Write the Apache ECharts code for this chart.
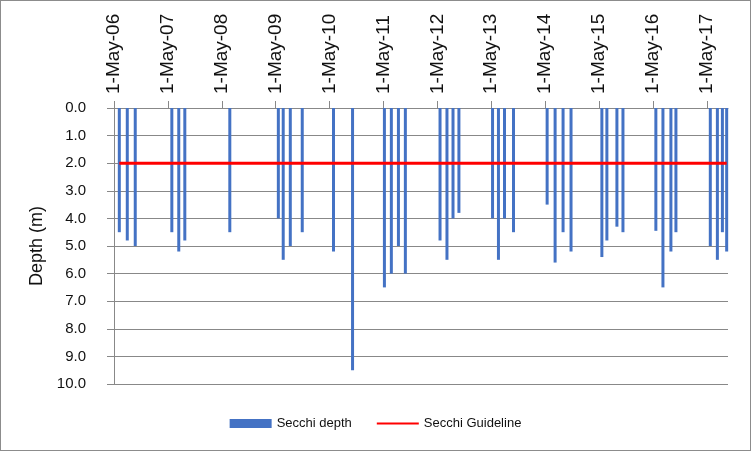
<!DOCTYPE html>
<html>
<head>
<meta charset="utf-8">
<script src="https://cdn.jsdelivr.net/npm/echarts@6/dist/echarts.min.js"></script>
<style>
html,body{margin:0;padding:0;background:#fff;}
#c{position:absolute;left:0;top:0;width:749px;height:449px;border:1px solid #8c8c8c;}
</style>
</head>
<body>
<div id="c"></div>
<script>
// Sampling dates
const sampleDates = [
  '2006-06-06','2006-07-30','2006-09-22',
  '2007-05-28','2007-07-14','2007-08-24',
  '2008-06-24',
  '2009-05-19','2009-06-21','2009-08-08','2009-10-28',
  '2010-05-28','2010-10-04',
  '2011-05-08','2011-06-24','2011-08-11','2011-09-27',
  '2012-05-19','2012-07-05','2012-08-15','2012-09-24',
  '2013-05-10','2013-06-19','2013-07-30','2013-09-29',
  '2014-05-15','2014-07-08','2014-08-31','2014-10-24',
  '2015-05-21','2015-06-24','2015-08-31','2015-10-11',
  '2016-05-21','2016-07-08','2016-08-31','2016-10-04',
  '2017-05-25','2017-07-12','2017-08-15','2017-09-13'
];
// Secchi depth (m)
const secchiDepth = [
  4.5, 4.8, 5.0,
  4.5, 5.2, 4.8,
  4.5,
  4.0, 5.5, 5.0, 4.5,
  5.2, 9.5,
  6.5, 6.0, 5.0, 6.0,
  4.8, 5.5, 4.0, 3.8,
  4.0, 5.5, 4.0, 4.5,
  3.5, 5.6, 4.5, 5.2,
  5.4, 4.8, 4.3, 4.5,
  4.45, 6.5, 5.2, 4.5,
  5.0, 5.5, 4.5, 5.2
];
const guidelineValue = 2.0;
const tickDates = ['2006-05-01','2007-05-01','2008-05-01','2009-05-01','2010-05-01','2011-05-01',
                   '2012-05-01','2013-05-01','2014-05-01','2015-05-01','2016-05-01','2017-05-01'];
const axisMinDate = '2006-05-01';
const axisMaxDate = '2017-09-22';

function ts(s){ const p = s.split('-').map(Number); return new Date(p[0], p[1]-1, p[2]).getTime(); }
const MONTHS = ['Jan','Feb','Mar','Apr','May','Jun','Jul','Aug','Sep','Oct','Nov','Dec'];
function fmt(v){ const d = new Date(v); return d.getDate() + '-' + MONTHS[d.getMonth()] + '-' + String(d.getFullYear()).slice(-2); }

const barData = sampleDates.map((d,i)=>[ts(d), secchiDepth[i]]);
const lineData = [[ts(sampleDates[0]), guidelineValue],[ts(sampleDates[sampleDates.length-1]), guidelineValue]];
const tickVals = tickDates.map(ts);

const chart = echarts.init(document.getElementById('c'), null, {renderer:'canvas'});
chart.setOption({
  animation:false,
  textStyle:{fontFamily:'Liberation Sans, Arial, sans-serif'},
  grid:{left:113, right:22, top:107, bottom:66, containLabel:false},
  legend:{
    bottom:15, left:'center',
    itemGap:24, itemWidth:42, itemHeight:9,
    textStyle:{fontSize:13, color:'#111'},
    data:[
      {name:'Secchi depth', icon:'rect'},
      {name:'Secchi Guideline', itemStyle:{color:'rgba(0,0,0,0)', borderWidth:0, opacity:0}}
    ]
  },
  xAxis:{
    type:'value', position:'top', scale:true,
    min:ts(axisMinDate), max:ts(axisMaxDate),
    axisLine:{show:true, lineStyle:{color:'#888', width:1}},
    axisTick:{show:true, length:7, inside:false, customValues:tickVals, lineStyle:{color:'#888'}},
    axisLabel:{rotate:90, margin:14, fontSize:19, color:'#111', customValues:tickVals,
      formatter:function(v){ return fmt(v); }},
    splitLine:{show:false}
  },
  yAxis:{
    type:'value', inverse:true, min:0, max:10, interval:1,
    name:'Depth (m)', nameLocation:'middle', nameGap:67, nameRotate:90,
    nameTextStyle:{fontSize:18, color:'#111'},
    axisLine:{show:true, lineStyle:{color:'#888'}},
    axisTick:{show:true, length:7, lineStyle:{color:'#888'}},
    axisLabel:{fontSize:15, color:'#111', margin:28, formatter:function(v){ return v.toFixed(1); }},
    splitLine:{show:true, lineStyle:{color:'#888', width:1}}
  },
  series:[
    {name:'Secchi depth', type:'bar', data:barData, barWidth:3, itemStyle:{color:'#4472C4'}, z:2},
    {name:'Secchi Guideline', type:'line', data:lineData, symbol:'none', lineStyle:{color:'#FF0000', width:3}, itemStyle:{color:'#FF0000'}, z:3}
  ]
});
</script>
</body>
</html>
